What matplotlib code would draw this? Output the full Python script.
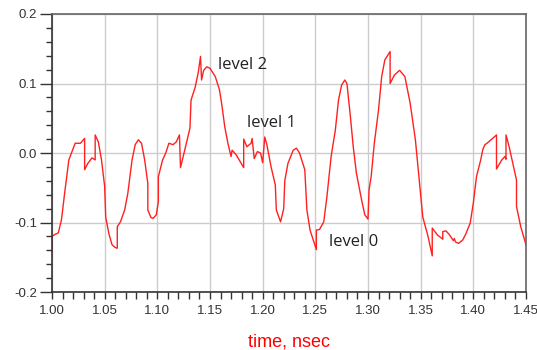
import numpy as np
import matplotlib
matplotlib.use('Agg')
import matplotlib.pyplot as plt
from matplotlib.ticker import MultipleLocator

# waveform samples (time in ns, voltage)
time_ns = [1.000, 1.000, 1.003, 1.006, 1.009, 1.012, 1.016, 1.019, 1.022, 1.027,
           1.031, 1.031, 1.034, 1.038, 1.041, 1.041, 1.044, 1.047, 1.050, 1.051,
           1.054, 1.057, 1.060, 1.062, 1.062, 1.065, 1.069, 1.072, 1.076, 1.079,
           1.082, 1.085, 1.088, 1.091, 1.091, 1.094, 1.096, 1.099, 1.101, 1.101,
           1.105, 1.108, 1.111, 1.115, 1.118, 1.121, 1.122, 1.126, 1.131, 1.132,
           1.136, 1.139, 1.141, 1.142, 1.144, 1.147, 1.150, 1.155, 1.159, 1.161,
           1.164, 1.167, 1.170, 1.171, 1.175, 1.182, 1.182, 1.185, 1.189, 1.190,
           1.192, 1.195, 1.198, 1.200, 1.202, 1.204, 1.208, 1.212, 1.213, 1.217,
           1.220, 1.221, 1.224, 1.229, 1.232, 1.235, 1.240, 1.242, 1.245, 1.251,
           1.251, 1.254, 1.258, 1.261, 1.265, 1.269, 1.272, 1.275, 1.278, 1.280,
           1.283, 1.286, 1.289, 1.294, 1.297, 1.300, 1.301, 1.303, 1.306, 1.310,
           1.313, 1.316, 1.321, 1.321, 1.325, 1.330, 1.335, 1.340, 1.345, 1.348,
           1.352, 1.357, 1.361, 1.361, 1.366, 1.371, 1.371, 1.374, 1.377, 1.381,
           1.382, 1.383, 1.386, 1.390, 1.393, 1.397, 1.400, 1.403, 1.407, 1.409,
           1.411, 1.413, 1.422, 1.422, 1.427, 1.430, 1.431, 1.431, 1.434, 1.441,
           1.441, 1.445, 1.450]
voltage = [-0.142, -0.120, -0.117, -0.115, -0.096, -0.058, -0.010, 0.002, 0.014, 0.014,
           0.021, -0.024, -0.015, -0.007, -0.010, 0.026, 0.016, -0.010, -0.048, -0.092,
           -0.116, -0.132, -0.136, -0.137, -0.106, -0.099, -0.082, -0.058, -0.010, 0.012,
           0.019, 0.014, -0.010, -0.044, -0.082, -0.093, -0.094, -0.089, -0.070, -0.034,
           -0.010, 0.000, 0.014, 0.012, 0.016, 0.026, -0.021, 0.004, 0.036, 0.076,
           0.095, 0.117, 0.139, 0.105, 0.119, 0.124, 0.122, 0.110, 0.091, 0.072,
           0.038, 0.014, -0.005, 0.004, -0.003, -0.021, 0.020, 0.009, 0.014, 0.021,
           -0.008, 0.002, 0.000, -0.014, 0.023, 0.012, -0.020, -0.046, -0.082, -0.099,
           -0.080, -0.040, -0.015, 0.004, 0.007, 0.000, -0.024, -0.082, -0.111, -0.139,
           -0.111, -0.110, -0.099, -0.063, -0.005, 0.033, 0.076, 0.098, 0.105, 0.100,
           0.057, 0.009, -0.029, -0.068, -0.089, -0.095, -0.053, -0.034, 0.014, 0.062,
           0.110, 0.134, 0.146, 0.100, 0.112, 0.119, 0.110, 0.072, 0.019, -0.029,
           -0.092, -0.120, -0.148, -0.108, -0.118, -0.124, -0.113, -0.112, -0.117, -0.126,
           -0.123, -0.128, -0.130, -0.125, -0.116, -0.101, -0.072, -0.034, -0.010, 0.005,
           0.012, 0.014, 0.026, -0.023, -0.010, -0.005, -0.009, 0.026, 0.009, -0.039,
           -0.077, -0.106, -0.132]

labels = ['level 2', 'level 1', 'level 0']
label_t = [1.1576, 1.1850, 1.2630]
label_v = [0.1266, 0.0430, -0.1280]

plt.rcParams['font.family'] = ['Liberation Sans', 'DejaVu Sans']

fig = plt.figure(figsize=(5.37, 3.5), dpi=100)
ax = fig.add_axes([0.0968, 0.1657, 0.8827, 0.7943])

ax.plot(time_ns, voltage, color='#ff2020', lw=1.0)

ax.set_xlim(1.0, 1.45)
ax.set_ylim(-0.2, 0.2)
ax.xaxis.set_major_locator(MultipleLocator(0.05))
ax.xaxis.set_minor_locator(MultipleLocator(0.01))
ax.yaxis.set_major_locator(MultipleLocator(0.1))
ax.yaxis.set_minor_locator(MultipleLocator(0.02))
ax.xaxis.set_major_formatter(plt.FuncFormatter(lambda v, p: f'{v:.2f}'))
ax.yaxis.set_major_formatter(plt.FuncFormatter(lambda v, p: f'{v:.1f}'))

ax.grid(True, which='major', color='#cccccc', lw=1.0)
ax.set_axisbelow(True)

ax.tick_params(axis='x', which='both', direction='out', length=5, width=1,
               color='#333333', labelsize=9.5, labelcolor='#333333', pad=4)
ax.tick_params(axis='y', which='major', direction='out', length=8.6, width=1,
               color='#333333', labelsize=9.5, labelcolor='#333333', pad=2)
ax.tick_params(axis='y', which='minor', direction='out', length=4.3, width=1,
               color='#333333')

for s in ax.spines.values():
    s.set_color('#666666')
    s.set_linewidth(1.2)
ax.spines['left'].set_color('#333333')
ax.spines['bottom'].set_color('#333333')

for txt, t, v in zip(labels, label_t, label_v):
    ax.text(t, v, txt, fontsize=12, color='#222222', ha='left', va='center',
            family=['Open Sans', 'DejaVu Sans'])

ax.set_xlabel('time, nsec', color='#ff0000', fontsize=13, labelpad=12)

fig.savefig('out.png', dpi=100)
